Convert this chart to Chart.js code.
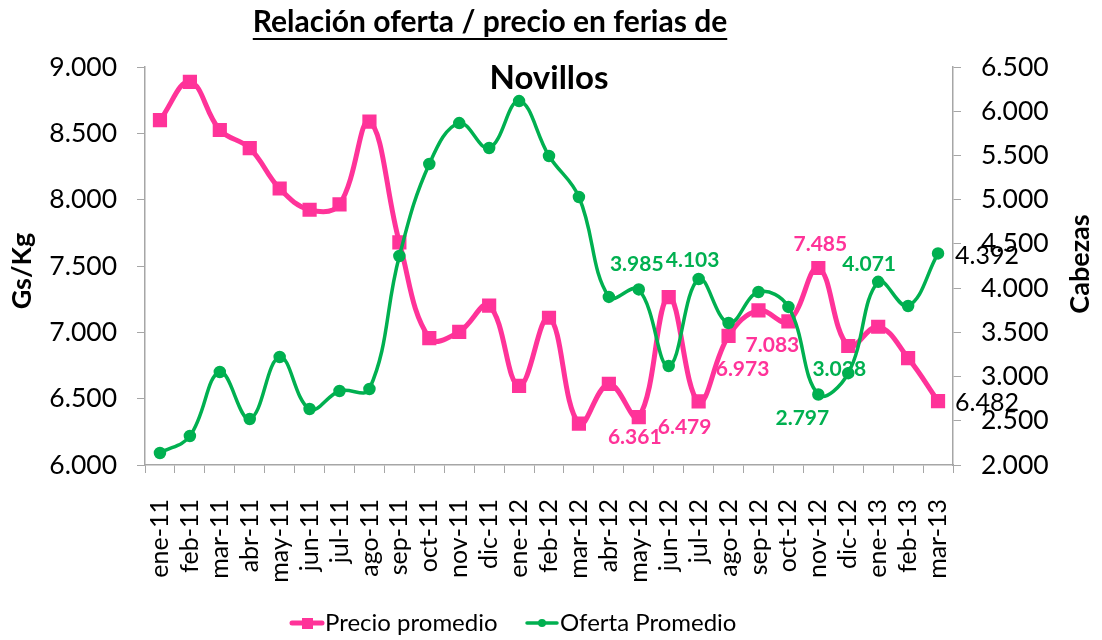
<!DOCTYPE html>
<html>
<head>
<meta charset="utf-8">
<script src="https://cdn.jsdelivr.net/npm/chart.js@4.4.1/dist/chart.umd.min.js"></script>
<style>
html,body{margin:0;padding:0;background:#fff;}
#wrap{position:relative;width:1102px;height:640px;}
</style>
</head>
<body>
<div id="wrap"><canvas id="c" width="1102" height="640"></canvas></div>
<script>
const categories = ['ene-11','feb-11','mar-11','abr-11','may-11','jun-11','jul-11','ago-11','sep-11','oct-11','nov-11','dic-11','ene-12','feb-12','mar-12','abr-12','may-12','jun-12','jul-12','ago-12','sep-12','oct-12','nov-12','dic-12','ene-13','feb-13','mar-13'];
const precioPromedio = [8600, 8888, 8525, 8388, 8084, 7924, 7964, 8588, 7678, 6956, 7004, 7202, 6596, 7110, 6312, 6611, 6361, 7265, 6479, 6973, 7166, 7083, 7485, 6897, 7042, 6806, 6482];
const ofertaPromedio = [2136, 2328, 3052, 2520, 3221, 2633, 2837, 2859, 4363, 5403, 5866, 5584, 6115, 5494, 5030, 3900, 3985, 3119, 4103, 3606, 3956, 3787, 2797, 3038, 4071, 3798, 4392];
const leftTicks = [6000, 6500, 7000, 7500, 8000, 8500, 9000];
const rightTicks = [2000, 2500, 3000, 3500, 4000, 4500, 5000, 5500, 6000, 6500];
const titleText = 'Relación oferta / precio en ferias de';
const subtitleText = 'Novillos';
const leftAxisTitle = 'Gs/Kg';
const rightAxisTitle = 'Cabezas';
const seriesNames = ['Precio promedio', 'Oferta Promedio'];
// indices of points that carry a value label in the reference
const labeledPrecio = [16, 18, 19, 21, 22, 26];
const labeledOferta = [16, 18, 22, 23, 24, 26];

const PINK = '#FF3399';
const GREEN = '#00B050';
const AXIS = '#A6A6A6';
const FONT = 'Lato, "Open Sans", sans-serif';

// label placement offsets (style only)
const labelOffsets = {
  0: {16:[-4,20],18:[-14,26],19:[14,33],21:[-16,24],22:[2,-24]},
  1: {16:[-2,-25],18:[-6,-19],22:[-16,24],23:[-9,-4],24:[-9,-18]}
};
// legend item positions (style only)
const legendPos = [{x: 292, y: 623}, {x: 527, y: 623}];

function fmt(v){ return Math.round(v).toString().replace(/\B(?=(\d{3})+(?!\d))/g, '.'); }

const overlay = {
  id: 'overlay',
  beforeDatasetsDraw(chart){
    const ctx = chart.ctx;
    ctx.save();
    ctx.textBaseline = 'middle';
    const sets = [[0, labeledPrecio, PINK], [1, labeledOferta, GREEN]];
    sets.forEach(([di, idxs, col]) => {
      const meta = chart.getDatasetMeta(di);
      const data = chart.data.datasets[di].data;
      idxs.forEach(i => {
        const p = meta.data[i];
        const off = labelOffsets[di][i];
        if (off) {
          ctx.font = 'bold 21px ' + FONT;
          ctx.fillStyle = col;
          ctx.textAlign = 'center';
          ctx.fillText(fmt(data[i]), p.x + off[0], p.y + off[1]);
        } else {
          ctx.font = '25px ' + FONT;
          ctx.fillStyle = '#000';
          ctx.textAlign = 'left';
          ctx.fillText(fmt(data[i]), p.x + 17, p.y + 2);
        }
      });
    });
    ctx.restore();
  },
  afterDraw(chart){
    const ctx = chart.ctx;
    ctx.save();
    ctx.fillStyle = '#000';
    ctx.textBaseline = 'middle';
    ctx.textAlign = 'center';
    ctx.font = 'bold 30px ' + FONT;
    ctx.fillText(titleText, 490, 22);
    const w = ctx.measureText(titleText).width;
    ctx.fillRect(490 - w/2, 38, w, 2);
    ctx.font = 'bold 33px ' + FONT;
    ctx.fillText(subtitleText, 549, 78);
    ctx.font = 'bold 27px ' + FONT;
    ctx.translate(22, 271); ctx.rotate(-Math.PI/2);
    ctx.fillText(leftAxisTitle, 0, 0);
    ctx.restore();
    ctx.save();
    ctx.fillStyle = '#000';
    ctx.textBaseline = 'middle';
    ctx.textAlign = 'center';
    ctx.font = 'bold 27px ' + FONT;
    ctx.translate(1080, 264); ctx.rotate(-Math.PI/2);
    ctx.fillText(rightAxisTitle, 0, 0);
    ctx.restore();

    // legend
    ctx.save();
    ctx.textBaseline = 'middle';
    ctx.textAlign = 'left';
    ctx.font = '24px ' + FONT;
    chart.data.datasets.forEach((d, i) => {
      const lp = legendPos[i];
      ctx.strokeStyle = d.borderColor;
      ctx.fillStyle = d.borderColor;
      ctx.lineWidth = i === 0 ? 5 : 3.5;
      ctx.lineCap = 'round';
      ctx.beginPath(); ctx.moveTo(lp.x, lp.y); ctx.lineTo(lp.x + 30, lp.y); ctx.stroke();
      if (i === 0) { ctx.fillRect(lp.x + 10, lp.y - 5, 11, 11); }
      else { ctx.beginPath(); ctx.arc(lp.x + 15, lp.y, 4, 0, Math.PI*2); ctx.fill(); }
      ctx.fillStyle = '#000';
      ctx.fillText(d.label, lp.x + 33, lp.y);
    });
    ctx.restore();
  }
};

new Chart(document.getElementById('c'), {
  type: 'line',
  data: {
    labels: categories,
    datasets: [
      {label: seriesNames[0], data: precioPromedio, yAxisID: 'y', borderColor: PINK, backgroundColor: PINK,
       borderWidth: 5, pointStyle: 'rect', pointRadius: 6.5, pointHoverRadius: 6.5, tension: 0.4, order: 2},
      {label: seriesNames[1], data: ofertaPromedio, yAxisID: 'y1', borderColor: GREEN, backgroundColor: GREEN,
       borderWidth: 3.5, pointStyle: 'circle', pointRadius: 4.5, pointHoverRadius: 4.5, tension: 0.4, order: 1}
    ]
  },
  options: {
    responsive: false,
    animation: false,
    events: [],
    layout: {padding: {top: 67, bottom: 0, left: 0, right: 0}},
    plugins: {
      title: {display: false},
      tooltip: {enabled: false},
      legend: {display: false}
    },
    scales: {
      x: {
        offset: true,
        grid: {display: true, drawOnChartArea: false, offset: true, color: AXIS, tickLength: 8},
        border: {color: AXIS, width: 1.5},
        ticks: {color: '#000', font: {family: FONT, size: 25}, minRotation: 90, maxRotation: 90, padding: 26, autoSkip: false},
        afterFit(s){ s.height = 175; }
      },
      y: {
        position: 'left', min: 6000, max: 9000,
        afterBuildTicks(s){ s.ticks = leftTicks.map(v => ({value: v})); },
        grid: {display: true, drawOnChartArea: false, color: AXIS, tickLength: 8},
        border: {color: AXIS, width: 1.5},
        ticks: {color: '#000', font: {family: FONT, size: 26.5}, padding: 20, callback: v => fmt(v)},
        afterFit(s){ s.width = 145; }
      },
      y1: {
        position: 'right', min: 2000, max: 6500,
        afterBuildTicks(s){ s.ticks = rightTicks.map(v => ({value: v})); },
        grid: {display: true, drawOnChartArea: false, color: AXIS, tickLength: 8},
        border: {color: AXIS, width: 1.5},
        ticks: {color: '#000', font: {family: FONT, size: 26.5}, padding: 20, callback: v => fmt(v)},
        afterFit(s){ s.width = 149; }
      }
    }
  },
  plugins: [overlay]
});
</script>
</body>
</html>
